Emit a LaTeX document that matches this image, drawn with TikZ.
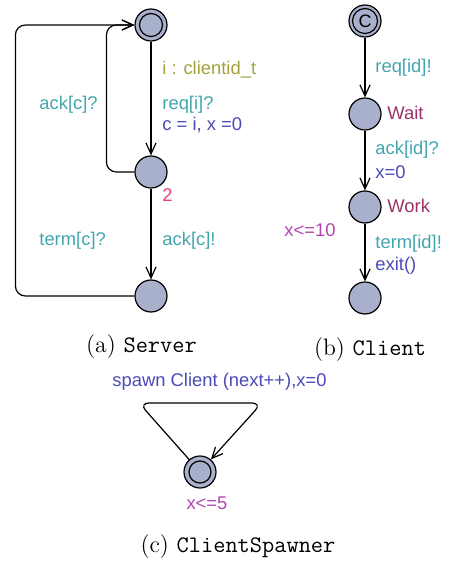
\documentclass[tikz,border=0pt]{standalone}
\usepackage{fontspec}
\setsansfont{Liberation Sans}
\usetikzlibrary{arrows.meta}

\definecolor{locfill}{HTML}{A8B0CC}
\definecolor{selcol}{HTML}{A3A33E}
\definecolor{synccol}{HTML}{43A6AE}
\definecolor{asgcol}{HTML}{4A4AB6}
\definecolor{invcol}{HTML}{B046B0}
\definecolor{namecol}{HTML}{993366}
\definecolor{priocol}{HTML}{E83C7C}

\begin{document}
\begin{tikzpicture}[x=0.5pt,y=-0.5pt,
    loc/.style={circle,draw,fill=locfill,line width=0.6pt,minimum size=16pt,inner sep=0pt},
    lbl/.style={font=\fontsize{9.2}{11}\sffamily,anchor=west,inner sep=0pt},
    subcap/.style={font=\fontsize{11.85}{14}\selectfont,inner sep=0pt},
    edge/.style={-{Straight Barb[length=5.5pt,width=5pt]},line width=0.6pt}]
    \useasboundingbox (0,0) rectangle (449,561);

    % Server
    \node[loc] (s0) at (151,25) {};
    \node[loc] (s1) at (151,172) {};
    \node[loc] (s2) at (151,296) {};
    \draw[line width=0.6pt] (s0) circle (5.75pt);
    \draw[edge] (s0) -- (s1);
    \draw[edge] (s1) -- (s2);
    \draw[edge,rounded corners=5pt] (s1.west) -- ++(-28,0) |- (s0.west);
    \draw[edge,rounded corners=5pt] (s2.west) -- ++(-119,0) |- (s0.west);
    \node[lbl,selcol] (sel) at (162,70) {i : clientid\_t};
    \node[lbl,synccol] (req) at (162,105) {req[i]?};
    \node[lbl,asgcol] (asg) at (162,125) {c = i, x =0};
    \node[lbl,synccol] (ackin) at (39,105) {ack[c]?};
    \node[lbl,priocol] (prio) at (162,195) {2};
    \node[lbl,synccol] (termin) at (39,241) {term[c]?};
    \node[lbl,synccol] (ackout) at (162,241) {ack[c]!};
    \node[subcap] (capa) at (141.5,347) {(a) \texttt{Server}};

    % Client
    \node[loc] (c0) at (365,21) {};
    \node[loc] (wait) at (365,114) {};
    \node[loc] (work) at (365,207) {};
    \node[loc] (done) at (365,298) {};
    \draw[line width=0.6pt] (c0) circle (6.25pt);
    \node[font=\fontsize{9}{9}\sffamily,inner sep=0pt] (cmark) at (c0) {C};
    \draw[edge] (c0) -- (wait);
    \draw[edge] (wait) -- (work);
    \draw[edge] (work) -- (done);
    \node[lbl,synccol] (reqout) at (375,68) {req[id]!};
    \node[lbl,namecol] (waitname) at (387,113) {Wait};
    \node[lbl,synccol] (ackid) at (375,150) {ack[id]?};
    \node[lbl,asgcol] (xreset) at (375,172) {x=0};
    \node[lbl,namecol] (workname) at (387,206) {Work};
    \node[lbl,invcol] (workinv) at (284,230) {x<=10};
    \node[lbl,synccol] (termout) at (375,244) {term[id]!};
    \node[lbl,asgcol] (exit) at (375,266) {exit()};
    \node[subcap] (capb) at (370,350) {(b) \texttt{Client}};

    % ClientSpawner
    \node[loc] (sp) at (200,472) {};
    \draw[line width=0.6pt] (sp) circle (5.5pt);
    \coordinate (spL) at (139,403);
    \coordinate (spR) at (262,403);
    \draw[edge,rounded corners=5pt] (sp.131) -- (spL) -- (spR) -- (sp.49);
    \node[lbl,asgcol] (spawn) at (112,382) {spawn Client (next++),x=0};
    \node[lbl,invcol,anchor=center] (spinv) at (207,503) {x<=5};
    \node[subcap] (capc) at (238,547) {(c) \texttt{ClientSpawner}};
\end{tikzpicture}
\end{document}
